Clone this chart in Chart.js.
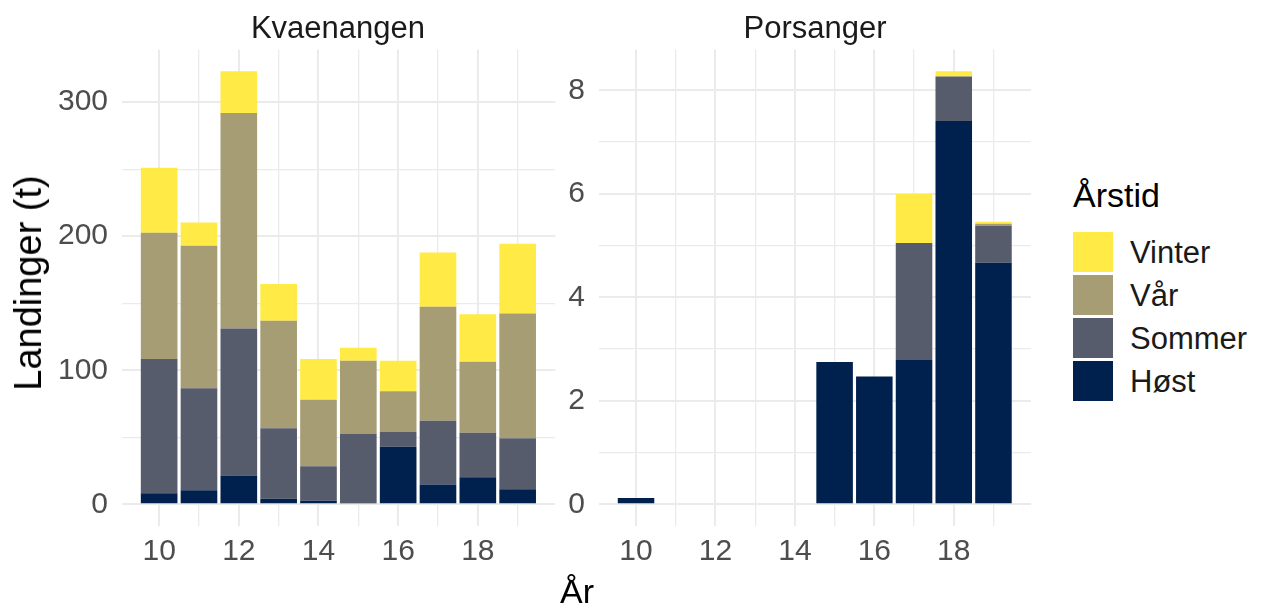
<!DOCTYPE html>
<html>
<head>
<meta charset="utf-8">
<script src="https://cdn.jsdelivr.net/npm/chart.js@4.4.1/dist/chart.umd.min.js"></script>
<style>
  body { margin: 0; background: #fff; font-family: "Liberation Sans", Arial, sans-serif; }
  #wrap { position: relative; width: 1264px; height: 607px; overflow: hidden; }
  canvas { position: absolute; top: 0; }
  .strip { position: absolute; top: 12px; font-size: 31px; line-height: 31px; color: #1a1a1a; transform: translateX(-50%); white-space: nowrap; }
  #ytitle { position: absolute; left: 28px; top: 283px; font-size: 38px; line-height: 38px; color: #000; transform: translate(-50%, -50%) rotate(-90deg); white-space: nowrap; }
  #xtitle { position: absolute; left: 577px; top: 574px; font-size: 34px; line-height: 34px; color: #000; transform: translateX(-50%); }
  #legend-title { position: absolute; left: 1073px; top: 178px; font-size: 34px; line-height: 34px; color: #000; }
  .key { position: absolute; left: 1073px; width: 40px; height: 40px; }
  .key-label { position: absolute; left: 1130px; font-size: 31px; line-height: 31px; color: #1a1a1a; transform: translateY(-50%); }
</style>
</head>
<body>
<div id="wrap">
  <canvas id="kva" width="560" height="607" style="left:0"></canvas>
  <canvas id="por" width="480" height="607" style="left:560px"></canvas>
  <div class="strip" style="left:338px">Kvaenangen</div>
  <div class="strip" style="left:815px">Porsanger</div>
  <div id="ytitle">Landinger (t)</div>
  <div id="xtitle">År</div>
  <div id="legend-title">Årstid</div>
  <div id="legend"></div>
</div>
<script>
// years on the x axis (20xx)
const years = [10, 11, 12, 13, 14, 15, 16, 17, 18, 19];

// stacking order, bottom to top
const seasons = ['Høst', 'Sommer', 'Vår', 'Vinter'];
const seasonColors = ['#00204D', '#575C6D', '#A69D75', '#FFEA46'];

// landings in tonnes, Kvaenangen
const kvaHost   = [8.2, 10.4, 21.4, 4.2, 2.7, 1.0, 43.0, 14.7, 20.1, 11.2];
const kvaSommer = [100.2, 76.1, 109.8, 52.5, 25.6, 51.4, 10.9, 47.7, 33.3, 38.0];
const kvaVar    = [94.2, 106.4, 160.8, 80.3, 49.7, 54.7, 30.4, 85.0, 53.0, 93.2];
const kvaVinter = [48.4, 17.4, 31.1, 27.3, 30.4, 9.7, 22.8, 40.5, 35.3, 52.0];

// landings in tonnes, Porsanger
const porHost   = [0.12, null, null, null, null, 2.75, 2.47, 2.79, 7.41, 4.67];
const porSommer = [null, null, null, null, null, null, null, 2.26, 0.86, 0.71];
const porVar    = [null, null, null, null, null, null, null, null, null, 0.04];
const porVinter = [null, null, null, null, null, null, null, 0.95, 0.10, 0.04];

// y ticks (major ones get labels)
const kvaTicks = [0, 50, 100, 150, 200, 250, 300];
const porTicks = [0, 1, 2, 3, 4, 5, 6, 7, 8];

const FONT = 'Liberation Sans';
const GRID = '#ebebeb';

function panel(id, series, o) {
  const ctx = document.getElementById(id).getContext('2d');
  return new Chart(ctx, {
    type: 'bar',
    data: {
      labels: years,
      datasets: series.map((d, i) => ({
        label: seasons[i],
        data: d,
        backgroundColor: seasonColors[i],
        borderWidth: 0,
        categoryPercentage: 1,
        barPercentage: 0.92
      }))
    },
    options: {
      responsive: false,
      animation: false,
      events: [],
      layout: { padding: { top: 49.5, right: o.padRight, left: 0, bottom: 0 } },
      plugins: { legend: { display: false }, tooltip: { enabled: false }, title: { display: false } },
      scales: {
        x: {
          type: 'linear',
          stacked: true,
          offset: false,
          min: 9.055,
          max: 19.945,
          afterBuildTicks: s => { s.ticks = years.map(v => ({ value: v })); },
          afterFit: s => { s.height = 81; },
          border: { display: false },
          grid: {
            offset: false,
            drawTicks: false,
            color: GRID,
            lineWidth: c => (c.tick && c.tick.value % 2 === 0 ? 2 : 1.3)
          },
          ticks: {
            padding: 8,
            autoSkip: false,
            maxRotation: 0,
            color: '#4d4d4d',
            font: { family: FONT, size: 30 },
            callback: v => (v % 2 === 0 ? v : '')
          }
        },
        y: {
          stacked: true,
          min: o.yMin,
          max: o.yMax,
          afterBuildTicks: s => { s.ticks = o.ticks.map(v => ({ value: v })); },
          afterFit: s => { s.width = o.axisWidth; },
          border: { display: false },
          grid: {
            drawTicks: false,
            color: GRID,
            lineWidth: c => (c.tick && c.tick.value % o.major === 0 ? 2 : 1.3)
          },
          ticks: {
            padding: 13.5,
            color: '#4d4d4d',
            font: { family: FONT, size: 30 },
            callback: v => (v % o.major === 0 ? v : '')
          }
        }
      }
    }
  });
}

panel('kva', [kvaHost, kvaSommer, kvaVar, kvaVinter],
  { yMin: -16.2, yMax: 339.3, ticks: kvaTicks, major: 100, axisWidth: 121.5, padRight: 4.7 });
panel('por', [porHost, porSommer, porVar, porVinter],
  { yMin: -0.42, yMax: 8.79, ticks: porTicks, major: 2, axisWidth: 38.5, padRight: 9 });

// legend, top entry is the top of the stack
const legend = document.getElementById('legend');
seasons.slice().reverse().forEach((name, i) => {
  const col = seasonColors[seasons.length - 1 - i];
  const key = document.createElement('div');
  key.className = 'key';
  key.style.top = (232 + i * 43) + 'px';
  key.style.background = col;
  legend.appendChild(key);
  const lab = document.createElement('div');
  lab.className = 'key-label';
  lab.style.top = (252 + i * 43) + 'px';
  lab.textContent = name;
  legend.appendChild(lab);
});
</script>
</body>
</html>
